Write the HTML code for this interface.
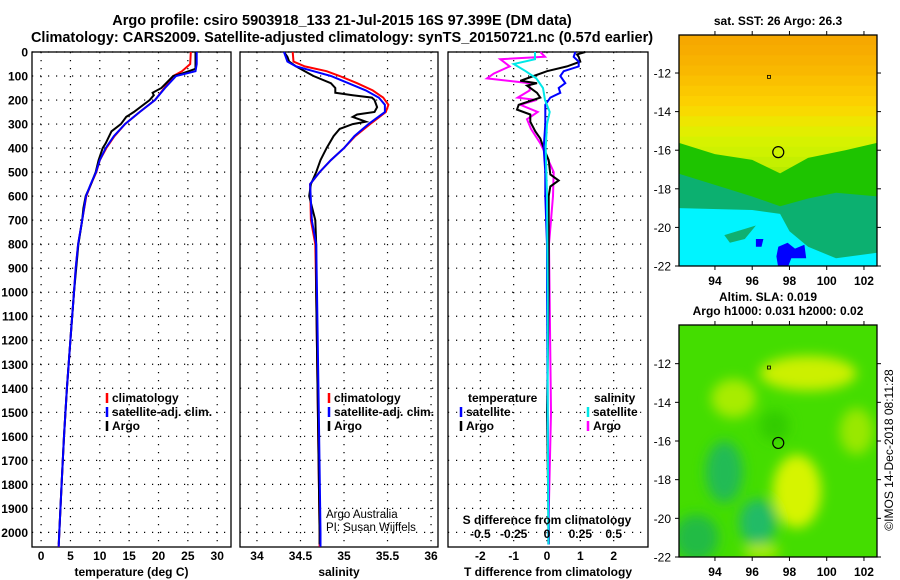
<!DOCTYPE html>
<html><head><meta charset="utf-8">
<style>
html,body{margin:0;padding:0;background:#fff;}
svg{display:block;font-family:"Liberation Sans",sans-serif;font-weight:bold;}
</style></head>
<body>
<svg id="fig" width="900" height="580" viewBox="0 0 900 580" xmlns="http://www.w3.org/2000/svg">
<defs><filter id="blur" x="-20%" y="-20%" width="140%" height="140%"><feGaussianBlur stdDeviation="6"/></filter>
<clipPath id="clipB"><rect x="679" y="325" width="198" height="232"/></clipPath>
<clipPath id="clipA"><rect x="679" y="35" width="198" height="231"/></clipPath></defs>
<text x="342" y="25" font-size="14.5" text-anchor="middle">Argo profile: csiro 5903918_133 21-Jul-2015 16S 97.399E (DM data)</text>
<text x="342" y="42" font-size="14.5" text-anchor="middle">Climatology: CARS2009. Satellite-adjusted climatology: synTS_20150721.nc (0.57d earlier)</text>
<g id="panels"></g>
<g id="maps"></g>
<text transform="translate(893,450) rotate(-90)" font-size="12" font-weight="normal" text-anchor="middle">©IMOS 14-Dec-2018 08:11:28</text>
</svg>
<script>
// ---------- data ----------
const depthTicks=[0,100,200,300,400,500,600,700,800,900,1000,1100,1200,1300,1400,1500,1600,1700,1800,1900,2000];
const tTicks=[0,5,10,15,20,25,30];
const sTicks=[34,34.5,35,35.5,36];
const sTickLabels=["34","34.5","35","35.5","36"];
const dTTicks=[-2,-1,0,1,2];
const dSTicks=[-0.5,-0.25,0,0.25,0.5];
const dSTickLabels=["-0.5","-0.25","0","0.25","0.5"];

const tClimDepth=[0,50,80,100,150,200,250,300,350,400,450,500,550,600,700,800,900,1000,1200,1400,1600,1800,2000,2060];
const tClim=[25.5,25.4,24,22.5,21,19.4,16.8,14.3,12.5,11.1,10,9.4,8.5,7.7,7.0,6.3,5.9,5.6,5.0,4.4,3.9,3.5,3.1,3.0];
const tSat=[26.5,26.5,26.3,23,21.1,19.4,16.8,14.3,12.4,11.0,10,9.35,8.45,7.65,7.0,6.3,5.9,5.6,5.0,4.4,3.9,3.5,3.1,3.0];
const tArgoDepth=[0,70,90,100,150,170,180,200,250,270,300,330,380,400,450,500,550,600,650,700,800,1000,1200,1400,1600,1800,2000,2050];
const tArgo=[26.3,26.3,24,22.5,20.5,19.0,19.2,18.5,15.8,14.5,13.6,12.0,11,10.5,9.8,9.3,8.5,7.6,7.2,7.0,6.35,5.6,5.0,4.4,3.9,3.5,3.1,3.0];

const sClimDepth=[0,40,60,80,100,130,160,190,220,250,300,350,400,450,500,550,700,800,1000,1500,2000,2060];
const sClim=[34.41,34.42,34.55,34.8,34.95,35.15,35.33,35.45,35.51,35.48,35.3,35.13,35.0,34.85,34.72,34.61,34.62,34.67,34.68,34.70,34.72,34.72];
const sSat=[34.31,34.35,34.45,34.65,34.85,35.05,35.25,35.4,35.47,35.47,35.28,35.12,35.0,34.85,34.72,34.61,34.63,34.68,34.69,34.71,34.73,34.73];
const sArgoDepth=[0,20,40,60,80,100,130,150,170,180,190,200,230,250,260,270,290,300,320,350,400,450,500,550,600,700,800,1000,1500,2000,2050];
const sArgo=[34.31,34.35,34.37,34.45,34.55,34.65,34.85,34.9,34.9,35.1,35.32,35.35,35.38,35.35,35.15,35.1,35.25,35.1,34.95,34.88,34.8,34.73,34.68,34.62,34.6,34.67,34.68,34.68,34.70,34.72,34.72];

const dTSatDepth=[0,20,40,60,80,100,130,150,170,190,220,300,400,500,600,800,1000,1500,2000,2050];
const dTSat=[0.85,0.8,0.95,0.95,0.5,0.4,0.55,0.35,0.4,0.1,-0.05,-0.05,-0.1,-0.05,-0.05,0,0,0.02,0.05,0.05];
const dTArgoDepth=[0,10,20,40,60,80,100,120,130,140,170,190,220,240,260,290,330,360,400,450,510,535,560,600,800,1000,1500,2000,2050];
const dTArgo=[1.15,0.9,0.95,1.0,0.6,0.0,-0.4,-0.8,-0.3,-0.6,-0.3,-0.2,-0.85,-0.9,-0.5,-0.5,-0.35,-0.2,-0.1,0.05,0.1,0.35,0.1,0.05,0.05,0.05,0.0,0.05,0.05];
const dSArgoDepth=[0,20,30,60,90,110,130,160,190,200,220,250,280,320,380,420,500,600,800,1500,2000,2050];
const dSArgo=[-0.05,-0.015,-0.35,-0.28,-0.4,-0.45,-0.13,-0.13,-0.22,-0.08,-0.2,-0.07,-0.15,-0.12,-0.05,-0.015,0.05,0.045,0.015,0.03,0.01,0.01];
const dSSatDepth=[0,30,50,80,110,150,200,250,300,400,600,1000,1500,2000,2050];
const dSSat=[-0.09,-0.09,-0.25,-0.16,-0.08,-0.03,-0.015,0.02,0,-0.01,0.0,0.005,0.005,0.01,0.01];

const lonTicks=[94,96,98,100,102];
const latTicks=[-12,-14,-16,-18,-20,-22];
const sstRowColors=["#f6a800","#f7ac00","#f8b200","#f9b800","#fac000","#fbc800","#fcd000","#f8da00","#eee600","#e2ee00","#d6f200","#cef200","#c4f000","#b8ec00"];
const slaBlobs=[[98.4,-18.6,1.3,1.9,"#d6f400"],[99,-12.5,2.6,0.9,"#ccf000"],[95,-13.8,1.2,1.0,"#a8ec00"],[94.5,-17.6,1.0,1.6,"#22bb55"],[96.3,-20.2,1.0,1.2,"#22bb66"],[97.2,-15.2,0.8,0.8,"#33cc00"],[101.6,-15.5,0.9,1.2,"#99e800"],[96.5,-21.7,1.0,0.4,"#aaec00"],[93,-21,1.2,1.2,"#22bb44"]];

// ---------- helpers ----------
const NS="http://www.w3.org/2000/svg";
const panelsG=document.getElementById('panels');
const mapsG=document.getElementById('maps');
function mk(tag,attrs,parent){const e=document.createElementNS(NS,tag);for(const k in attrs)e.setAttribute(k,attrs[k]);parent.appendChild(e);return e;}
const top0=52,bot=547;
function yD(d){return top0+d*0.2402;}

function panel(name,x0,x1,xmin,xmax,ticks,labels,xlabel){
  const g=mk('g',{},panelsG);
  
  
  const sx=v=>x0+(v-xmin)/(xmax-xmin)*(x1-x0);
  depthTicks.forEach(d=>{const l=mk('line',{x1:x0,x2:x1,y1:yD(d),y2:yD(d),stroke:'#000','stroke-width':1.2,'stroke-dasharray':'1.2 6.8'},g);
    });
  if(ticks) ticks.forEach((t,i)=>{const X=sx(t);
    const l=mk('line',{x1:X,x2:X,y1:top0,y2:bot,stroke:'#000','stroke-width':1.2,'stroke-dasharray':'1.2 6.8'},g);
    
    const tx=mk('text',{x:X,y:560,'font-size':12,'text-anchor':'middle'},g);tx.textContent=labels[i];
    });
  const r=mk('rect',{x:x0,y:top0,width:x1-x0,height:bot-top0,fill:'none',stroke:'#000','stroke-width':1.3},g);
  
  const xl=mk('text',{x:(x0+x1)/2,y:576,'font-size':12,'text-anchor':'middle'},g);xl.textContent=xlabel;
  
  return {g,sx};
}
function line(p,depths,vals,color,nm,w){
  const d=depths.map((dd,i)=>(i?'L':'M')+p.sx(vals[i]).toFixed(1)+','+yD(dd).toFixed(1)).join('');
  const e=mk('path',{d,fill:'none',stroke:color,'stroke-width':w||2},p.g);
  
}
function legend(g,x,y,color,label,nm){
  const l=mk('line',{x1:x,x2:x,y1:y-9,y2:y+1,stroke:color,'stroke-width':2.5},g);
  
  const t=mk('text',{x:x+5,y:y,'font-size':12},g);t.textContent=label;
  
}

depthTicks.forEach(d=>{const t=mk('text',{x:28,y:yD(d)+4.5,'font-size':12,'text-anchor':'end'},panelsG);t.textContent=d;
  });

// panel 1 temperature
const p1=panel('temperature-panel',32,231,-1.55,32.35,tTicks,tTicks.map(String),'temperature (deg C)');
line(p1,tClimDepth,tClim,'#ff0000','temperature-climatology-line');
line(p1,tArgoDepth,tArgo,'#000000','temperature-argo-line');
line(p1,tClimDepth,tSat,'#0000ff','temperature-satellite-line');
legend(p1.g,107,402,'#ff0000','climatology','legend-climatology');
legend(p1.g,107,416,'#0000ff','satellite-adj. clim.','legend-satellite');
legend(p1.g,107,430,'#000000','Argo','legend-argo');

// panel 2 salinity
const p2=panel('salinity-panel',240,438,33.805,36.08,sTicks,sTickLabels,'salinity');
line(p2,sClimDepth,sClim,'#ff0000','salinity-climatology-line');
line(p2,sArgoDepth,sArgo,'#000000','salinity-argo-line');
line(p2,sClimDepth,sSat,'#0000ff','salinity-satellite-line');
legend(p2.g,329,402,'#ff0000','climatology','legend-climatology');
legend(p2.g,329,416,'#0000ff','satellite-adj. clim.','legend-satellite');
legend(p2.g,329,430,'#000000','Argo','legend-argo');
[["Argo Australia",518],["PI: Susan Wijffels",531]].forEach(a=>{const t=mk('text',{x:326,y:a[1],'font-size':11.5,'font-weight':'normal'},p2.g);t.textContent=a[0];
  });

// panel 3 differences
const p3=panel('difference-panel',448,648,-2.97,3.03,dTTicks,dTTicks.map(String),'T difference from climatology');
const p3s={g:p3.g,sx:v=>p3.sx(v*4)};
line(p3s,dSArgoDepth,dSArgo,'#ff00ff','salinity-argo-diff-line');
line(p3,dTArgoDepth,dTArgo,'#000000','temperature-argo-diff-line');
line(p3,dTSatDepth,dTSat,'#0000ff','temperature-satellite-diff-line');
line(p3s,dSSatDepth,dSSat,'#00e8e8','salinity-satellite-diff-line');
(function(){const t=mk('text',{x:468,y:402,'font-size':12},p3.g);t.textContent='temperature';
 const s=mk('text',{x:594,y:402,'font-size':12},p3.g);s.textContent='salinity';})();
legend(p3.g,461,416,'#0000ff','satellite','legend-t-satellite');
legend(p3.g,461,430,'#000000','Argo','legend-t-argo');
legend(p3.g,588,416,'#00e8e8','satellite','legend-s-satellite');
legend(p3.g,588,430,'#ff00ff','Argo','legend-s-argo');
(function(){const t=mk('text',{x:547,y:524,'font-size':12,'text-anchor':'middle'},p3.g);t.textContent='S difference from climatology';
 
 dSTicks.forEach((v,i)=>{const X=p3.sx(v*4);const l=mk('text',{x:X,y:538,'font-size':12,'text-anchor':'middle'},p3.g);l.textContent=dSTickLabels[i];
  });})();

// ---------- maps ----------
function mapAxes(nm,y0,y1,latTop,latBot){
  const g=mk('g',{},mapsG);
  const x0=679,x1=877,lonL=92.07,lonR=102.7;
  const sx=v=>x0+(v-lonL)/(lonR-lonL)*(x1-x0);
  const sy=v=>y0+(latTop-v)/(latTop-latBot)*(y1-y0);
  return {g,sx,sy,x0,x1,y0,y1};
}
function frame(m){
  const g=m.g;
  lonTicks.forEach(v=>{const X=m.sx(v);
    mk('line',{x1:X,x2:X,y1:m.y0-4,y2:m.y0,stroke:'#000'},g);mk('line',{x1:X,x2:X,y1:m.y1,y2:m.y1+4,stroke:'#000'},g);
    const t=mk('text',{x:X,y:m.y1+19,'font-size':12,'text-anchor':'middle'},g);t.textContent=v;
    });
  latTicks.forEach(v=>{const Y=m.sy(v);if(Y<m.y0)return;
    mk('line',{x1:m.x0-4,x2:m.x0,y1:Y,y2:Y,stroke:'#000'},g);mk('line',{x1:m.x1,x2:m.x1+4,y1:Y,y2:Y,stroke:'#000'},g);
    const t=mk('text',{x:m.x0-8,y:Y+4.5,'font-size':12,'text-anchor':'end','font-weight':'normal'},g);t.textContent=v;
    });
  const r=mk('rect',{x:m.x0,y:m.y0,width:m.x1-m.x0,height:m.y1-m.y0,fill:'none',stroke:'#000','stroke-width':1.3},g);
  
  const c=mk('circle',{cx:m.sx(97.399),cy:m.sy(-16.1),r:5.5,fill:'none',stroke:'#000','stroke-width':1.2},g);
  
  const sq=mk('rect',{x:m.sx(96.9)-1.5,y:m.sy(-12.2)-1.5,width:3,height:3,fill:'none',stroke:'#000','stroke-width':0.8},g);
  
}
function poly(m,g,pts,fill,nm){
  const p=mk('polygon',{points:pts.map(q=>m.sx(q[0]).toFixed(1)+','+m.sy(q[1]).toFixed(1)).join(' '),fill},g);
  
}
// SST map
const mA=mapAxes('sst-map',35,266,-10.03,-22.0);
(function(){const m=mA;const n=sstRowColors.length;const y16=m.sy(-17.4);const h=(y16-m.y0)/n;
  const cg=mk('g',{'clip-path':'url(#clipA)'},m.g);
  sstRowColors.forEach((c,i)=>{const r=mk('rect',{x:m.x0,y:m.y0+i*h,width:m.x1-m.x0,height:h+0.6,fill:c},cg);
    });
  poly(m,cg,[[92,-15.6],[94,-16.2],[96,-16.5],[97.5,-17.2],[99,-16.4],[101,-16.0],[102.8,-15.6],[102.8,-22.1],[92,-22.1]],'#1ec400','sst-green-region');
  poly(m,cg,[[92,-17.2],[94,-17.8],[96,-18.4],[97.5,-18.9],[99,-18.5],[100.5,-18.2],[102.8,-18.4],[102.8,-22.1],[92,-22.1]],'#0cb070','sst-teal-region');
  poly(m,cg,[[92,-19.0],[96,-19.1],[97.5,-19.3],[98,-20.2],[99,-21.0],[100.5,-21.6],[102.8,-21.3],[102.8,-22.1],[92,-22.1]],'#00f4ff','sst-cyan-region');
  poly(m,cg,[[94.5,-20.4],[96.2,-19.9],[95.6,-20.6],[94.8,-20.8]],'#10b070','sst-teal-patch');
  poly(m,cg,[[97.4,-21.0],[97.9,-20.8],[98.3,-21.1],[98.8,-20.9],[98.9,-21.6],[98.1,-21.6],[97.9,-22.1],[97.4,-22.1],[97.3,-21.5]],'#0000ff','sst-cold-patch');
  poly(m,cg,[[96.2,-20.6],[96.6,-20.6],[96.5,-21.0],[96.2,-21.0]],'#0000ff','sst-cold-patch-small');
  frame(m);
  const t=mk('text',{x:778,y:25,'font-size':12,'text-anchor':'middle'},m.g);t.textContent='sat. SST: 26 Argo: 26.3';
  
})();
// SLA map
const mB=mapAxes('sla-map',325,557,-10.0,-22.0);
(function(){const m=mB;
  const r=mk('rect',{x:m.x0,y:m.y0,width:m.x1-m.x0,height:m.y1-m.y0,fill:'#44dd00'},m.g);
  
  const bg=mk('g',{'clip-path':'url(#clipB)'},m.g);
  const bl=mk('g',{filter:'url(#blur)'},bg);
  slaBlobs.forEach(b=>{const e=mk('ellipse',{cx:m.sx(b[0]),cy:m.sy(b[1]),rx:b[2]*18.6,ry:b[3]*19.3,fill:b[4]},bl);
    });
  frame(m);
  const t1=mk('text',{x:768,y:301,'font-size':12,'text-anchor':'middle'},m.g);t1.textContent='Altim. SLA: 0.019';
  
  const t2=mk('text',{x:778,y:315,'font-size':12,'text-anchor':'middle'},m.g);t2.textContent='Argo h1000: 0.031 h2000: 0.02';
  
})();
</script>
</body></html>
